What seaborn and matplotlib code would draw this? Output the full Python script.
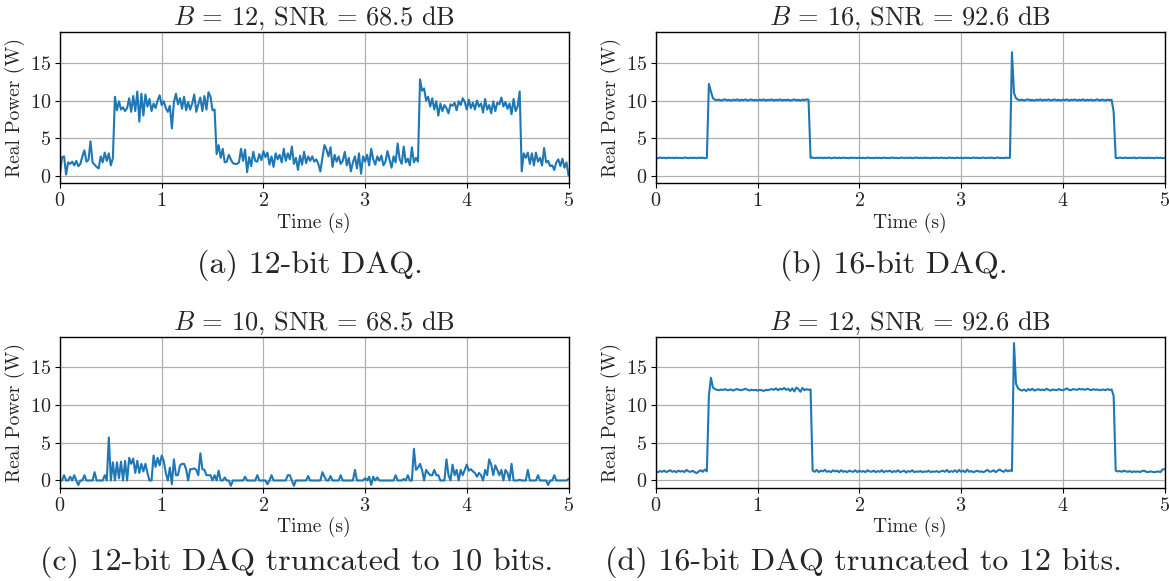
import numpy as np
import pandas as pd
import matplotlib
matplotlib.use("Agg")
import matplotlib.pyplot as plt
import seaborn as sns

# ---------------- data ----------------
sample_period = 0.02  # s

power_a = [  # 12-bit DAQ
    0.3, 2.5, 2.6, 0.2, 1.8, 1.6, 1.9, 1.4, 2.0, 1.3,
    1.6, 2.6, 3.4, 1.9, 2.1, 4.6, 1.8, 1.5, 1.2, 1.0,
    2.6, 1.8, 3.1, 2.0, 3.0, 1.4, 2.4, 10.5, 8.7, 9.9,
    8.8, 9.1, 8.6, 9.0, 10.3, 8.5, 10.6, 8.6, 11.2, 7.2,
    10.9, 8.0, 10.8, 9.2, 10.2, 8.6, 9.6, 9.0, 10.0, 10.7,
    9.4, 9.9, 9.0, 8.5, 9.3, 6.3, 9.8, 10.9, 9.5, 10.3,
    8.9, 10.5, 8.7, 9.8, 8.8, 9.6, 10.8, 8.5, 9.5, 10.4,
    8.6, 10.6, 8.8, 11.1, 10.5, 8.7, 8.8, 2.9, 4.1, 2.4,
    3.6, 1.8, 1.9, 2.8, 2.2, 1.7, 1.6, 1.6, 1.8, 3.6,
    2.0, 3.5, 0.5, 2.5, 1.3, 3.2, 2.0, 1.9, 2.9, 2.1,
    3.3, 2.5, 3.1, 1.5, 2.6, 1.2, 3.0, 2.2, 2.8, 1.8,
    3.6, 2.0, 3.0, 2.2, 3.9, 1.6, 2.4, 0.8, 2.7, 1.5,
    3.2, 1.7, 2.6, 2.0, 2.6, 1.9, 2.2, 1.6, 0.6, 2.4,
    4.1, 3.5, 2.6, 3.8, 1.2, 2.8, 1.9, 2.6, 1.6, 2.0,
    3.2, 1.4, 2.4, 0.6, 1.8, 2.6, 1.0, 3.0, 0.3, 2.6,
    1.9, 2.8, 1.4, 3.6, 2.2, 1.5, 2.6, 2.0, 2.7, 1.4,
    1.9, 3.3, 2.2, 1.1, 2.6, 1.8, 4.3, 2.2, 1.6, 3.9,
    1.8, 2.3, 1.4, 3.8, 1.8, 2.4, 1.9, 12.8, 11.3, 11.6,
    10.0, 10.5, 9.2, 10.3, 8.8, 9.9, 8.0, 9.6, 8.6, 9.4,
    9.0, 8.3, 9.5, 9.3, 9.7, 8.7, 9.9, 9.4, 10.3, 9.8,
    8.8, 10.1, 9.0, 9.7, 8.8, 10.0, 9.2, 9.6, 8.4, 10.2,
    8.8, 9.4, 8.3, 9.9, 8.6, 9.7, 9.5, 10.4, 9.2, 9.8,
    8.9, 9.6, 8.2, 10.2, 8.6, 9.2, 11.2, 0.6, 3.0, 2.4,
    3.1, 1.6, 3.0, 1.4, 3.1, 1.9, 2.4, 1.4, 3.7, 1.8,
    2.0, 1.3, 1.4, 0.8, 1.8, 2.2, 1.3, 2.3, 1.1, 1.8,
    0.1,
]

power_b = [  # 16-bit DAQ
    2.40, 2.35, 2.45, 2.38, 2.42, 2.35, 2.44, 2.38, 2.42, 2.36,
    2.44, 2.38, 2.40, 2.35, 2.45, 2.40, 2.36, 2.43, 2.38, 2.42,
    2.36, 2.44, 2.38, 2.42, 2.35, 2.40, 12.2, 11.2, 10.3, 10.1,
    10.05, 10.12, 10.00, 10.10, 10.15, 10.02, 10.10, 9.98, 10.12, 10.05,
    10.15, 10.00, 10.10, 10.05, 10.15, 10.00, 10.08, 10.14, 10.02, 10.10,
    10.00, 10.12, 10.05, 10.15, 10.00, 10.10, 10.06, 10.14, 10.00, 10.10,
    10.05, 10.15, 10.00, 10.10, 10.04, 10.12, 10.00, 10.08, 10.15, 10.02,
    10.10, 10.00, 10.12, 10.05, 10.15, 10.10, 2.40, 2.45, 2.36, 2.42,
    2.38, 2.44, 2.36, 2.42, 2.38, 2.45, 2.35, 2.40, 2.44, 2.37,
    2.42, 2.36, 2.44, 2.38, 2.40, 2.35, 2.44, 2.38, 2.42, 2.36,
    2.44, 2.37, 2.41, 2.35, 2.45, 2.38, 2.40, 2.36, 2.43, 2.38,
    2.42, 2.35, 2.44, 2.38, 2.40, 2.36, 2.45, 2.38, 2.42, 2.35,
    2.40, 2.44, 2.36, 2.42, 2.38, 2.44, 2.35, 2.40, 2.45, 2.37,
    2.42, 2.36, 2.44, 2.38, 2.40, 2.35, 2.43, 2.38, 2.42, 2.36,
    2.44, 2.38, 2.40, 2.35, 2.45, 2.38, 2.41, 2.36, 2.44, 2.38,
    2.42, 2.35, 2.44, 2.38, 2.40, 2.36, 2.45, 2.38, 2.42, 2.36,
    2.40, 2.44, 2.36, 2.42, 2.38, 2.44, 2.35, 2.40, 2.45, 2.37,
    2.40, 2.36, 2.44, 2.38, 2.42, 16.4, 11.0, 10.3, 10.1, 10.05,
    10.12, 10.00, 10.10, 10.15, 10.02, 10.10, 9.98, 10.12, 10.05, 10.15,
    10.00, 10.10, 10.05, 10.15, 10.00, 10.08, 10.14, 10.02, 10.10, 10.00,
    10.12, 10.05, 10.15, 10.00, 10.10, 10.06, 10.14, 10.00, 10.10, 10.05,
    10.15, 10.00, 10.10, 10.04, 10.12, 10.00, 10.08, 10.15, 10.02, 10.10,
    10.10, 10.00, 10.12, 10.05, 10.10, 8.5, 2.40, 2.36, 2.44, 2.40,
    2.38, 2.44, 2.36, 2.42, 2.38, 2.45, 2.35, 2.40, 2.44, 2.37,
    2.42, 2.36, 2.44, 2.38, 2.40, 2.35, 2.44, 2.38, 2.42, 2.36,
    2.40,
]

power_c = [  # 12-bit DAQ truncated to 10 bits
    0.0, 0.0, 0.7, 0.0, 0.0, 0.5, 0.0, 0.7, 0.0, -0.6,
    0.0, 0.0, 0.7, 0.0, 0.0, 0.0, 0.0, 1.1, 0.0, 0.0,
    0.0, 0.0, 0.7, 0.0, 5.7, 0.0, 2.4, 0.0, 2.4, 0.3,
    2.5, 0.0, 2.6, 0.0, 3.0, 2.2, 2.9, 1.0, 2.6, 1.0,
    2.2, 1.2, 2.2, 1.0, 0.0, 0.0, 3.3, 1.8, 3.0, 2.0,
    3.3, 2.6, 1.0, 0.0, 1.7, -0.5, 2.8, 0.7, 0.7, 2.0,
    2.2, 2.2, 1.5, 0.0, 1.5, 1.5, 1.6, 1.4, 0.7, 3.6,
    1.5, 1.4, 0.7, 0.7, 0.7, 0.0, 0.7, 0.0, 1.3, 0.0,
    0.0, 0.4, 0.0, 0.0, -0.7, 0.0, 0.0, 0.0, 0.0, 0.0,
    0.0, 0.5, 0.0, 0.0, 0.0, 0.0, 0.0, 0.7, 0.0, 0.0,
    0.0, 0.0, -0.5, 0.0, 0.7, 0.0, 0.0, 0.0, 0.0, 0.0,
    0.0, 0.0, 0.7, 0.7, 0.0, -0.7, 0.0, 0.0, 0.0, 0.0,
    0.0, 0.0, 0.6, 0.0, 0.0, 0.0, 0.0, 0.0, 0.0, 1.1,
    0.5, 0.0, 0.0, 0.6, 0.0, 0.0, 0.0, 0.0, 0.7, 0.0,
    0.0, 0.0, 0.0, 0.0, 0.0, 1.4, 0.0, 0.0, 0.0, 0.0,
    0.3, 0.0, 0.5, -0.6, 0.5, 0.0, 0.4, 0.0, 0.0, 0.0,
    0.0, 0.0, 0.0, 0.0, 0.0, 0.7, 0.0, 0.0, 0.0, 0.2,
    0.0, 0.7, 0.0, 0.0, 4.2, 1.4, 1.7, 2.2, 1.4, 0.0,
    1.4, 1.0, 0.7, 0.7, 1.4, 0.7, 0.7, 0.0, 0.0, 0.0,
    2.8, 0.7, 0.0, 2.1, 0.7, 1.4, 0.0, 1.4, 0.7, 1.4,
    2.1, 1.3, 1.5, 1.2, 1.0, 0.5, 1.0, 0.7, 0.0, 1.4,
    0.7, 2.8, 2.1, 0.7, 2.0, 1.4, 0.7, 1.4, 0.0, 1.4,
    1.0, 0.0, 2.2, 0.0, 0.0, 0.0, 0.1, 0.0, 0.0, 0.0,
    1.4, 0.0, 0.0, 0.0, 0.0, 0.7, 0.0, 0.0, 0.0, 0.0,
    -0.6, 0.0, 0.0, 0.7, 0.0, 0.0, 0.0, 0.0, 0.0, 0.0,
    0.2,
]

power_d = [  # 16-bit DAQ truncated to 12 bits
    1.20, 1.10, 1.25, 1.15, 1.30, 1.12, 1.22, 1.35, 1.15, 1.25,
    1.10, 1.30, 1.18, 1.25, 1.12, 1.40, 1.20, 1.15, 1.28, 1.10,
    0.98, 1.20, 1.35, 1.15, 1.45, 1.20, 11.2, 13.6, 12.3, 12.1,
    12.00, 11.95, 12.05, 11.98, 12.10, 11.95, 12.00, 12.05, 11.90, 12.05,
    12.10, 12.00, 11.95, 12.05, 12.15, 12.00, 11.92, 12.02, 11.95, 12.00,
    11.90, 12.00, 11.95, 11.85, 12.00, 11.95, 12.05, 12.10, 12.00, 12.20,
    11.95, 12.15, 12.05, 12.25, 12.00, 12.15, 11.85, 12.20, 11.80, 12.30,
    12.10, 11.75, 12.25, 11.95, 12.10, 12.00, 12.05, 1.30, 1.15, 1.40,
    1.10, 1.30, 1.20, 1.40, 1.15, 1.25, 1.10, 1.35, 1.20, 1.30,
    1.10, 1.35, 1.15, 1.25, 1.10, 1.30, 1.20, 1.15, 1.35, 1.10,
    1.30, 1.15, 1.25, 1.10, 1.35, 1.20, 1.15, 1.30, 1.10, 1.25,
    1.15, 1.35, 1.10, 1.25, 1.20, 1.30, 1.10, 1.25, 1.15, 1.35,
    1.10, 1.20, 1.30, 1.05, 1.25, 1.15, 1.35, 1.10, 1.20, 1.15,
    1.25, 1.10, 1.20, 1.15, 1.30, 1.10, 1.20, 1.15, 1.25, 1.10,
    1.20, 1.30, 1.15, 1.40, 1.10, 1.25, 1.15, 1.35, 1.10, 1.40,
    1.15, 1.30, 1.10, 1.45, 1.15, 1.25, 1.10, 1.20, 1.30, 1.15,
    1.20, 1.10, 1.25, 1.40, 1.15, 1.20, 1.35, 1.10, 1.30, 1.45,
    1.25, 1.15, 1.40, 1.20, 1.35, 1.25, 18.2, 12.8, 12.2, 12.0,
    11.90, 12.05, 11.85, 12.10, 11.95, 12.15, 11.90, 12.00, 12.10, 11.95,
    12.05, 11.95, 12.15, 12.00, 11.90, 12.05, 12.00, 11.95, 12.10, 12.00,
    11.95, 12.05, 12.20, 12.00, 11.95, 12.10, 12.05, 12.00, 12.15, 12.05,
    12.10, 12.00, 12.15, 12.05, 11.95, 12.10, 12.00, 12.05, 11.95, 12.00,
    12.05, 11.95, 12.10, 12.00, 12.05, 11.20, 1.30, 1.20, 1.25, 1.15,
    1.30, 1.20, 1.15, 1.25, 1.10, 1.20, 1.15, 1.20, 1.10, 1.25,
    1.30, 1.15, 1.10, 1.20, 1.15, 1.10, 1.15, 1.20, 1.10, 1.45,
    1.50,
]

titles = [r"$B$ = 12, SNR = 68.5 dB", r"$B$ = 16, SNR = 92.6 dB",
          r"$B$ = 10, SNR = 68.5 dB", r"$B$ = 12, SNR = 92.6 dB"]
captions = ["(a) 12-bit DAQ.", "(b) 16-bit DAQ.",
            "(c) 12-bit DAQ truncated to 10 bits.",
            "(d) 16-bit DAQ truncated to 12 bits."]
x_ticks = [0, 1, 2, 3, 4, 5]
y_ticks = [0, 5, 10, 15]

# ---------------- style ----------------
sns.set_style("whitegrid", {
    "axes.edgecolor": "black",
    "grid.color": "#b0b0b0",
    "xtick.bottom": True,
    "ytick.left": True,
    "axes.linewidth": 1.0,
})
plt.rcParams["font.family"] = ["cmr10", "DejaVu Serif"]
plt.rcParams["mathtext.fontset"] = "cm"
plt.rcParams["axes.unicode_minus"] = False
plt.rcParams["axes.formatter.use_mathtext"] = True

W, H = 1169, 581
fig = plt.figure(figsize=(W / 100, H / 100), dpi=100)

# axes rectangles in pixels: (left, top, right, bottom)
rects_px = [(60, 32.3, 568.5, 183.0), (656, 32.3, 1164.5, 183.0),
            (60, 336.7, 568.5, 487.5), (656, 336.7, 1164.5, 487.5)]
caption_px = [(310, 265), (894, 265), (297, 562), (863, 562)]
series = [power_a, power_b, power_c, power_d]

for i in range(4):
    l, t, r, b = rects_px[i]
    ax = fig.add_axes([l / W, 1 - b / H, (r - l) / W, (b - t) / H])
    vals = series[i]
    df = pd.DataFrame({"Time (s)": np.arange(len(vals)) * sample_period,
                       "Real Power (W)": vals})
    sns.lineplot(data=df, x="Time (s)", y="Real Power (W)", ax=ax,
                 color="#1f77b4", linewidth=1.5, errorbar=None)
    ax.set_xlim(0, 5)
    ax.set_ylim(-0.93, 19.04)
    ax.set_xticks(x_ticks)
    ax.set_yticks(y_ticks)
    ax.grid(True, color="#b0b0b0", linewidth=0.9)
    ax.tick_params(axis="both", labelsize=14.5, length=3.5, width=0.8,
                   color="black", pad=3)
    ax.set_xlabel("Time (s)", fontsize=14, labelpad=2)
    ax.set_ylabel("Real Power (W)", fontsize=14, labelpad=3)
    ax.set_title(titles[i], fontsize=19, pad=4)
    for s in ax.spines.values():
        s.set_color("black")
        s.set_linewidth(1.0)
    cx, cy = caption_px[i]
    fig.text(cx / W, 1 - cy / H, captions[i], ha="center", va="center",
             fontsize=23)

fig.savefig("out.png", dpi=100)
